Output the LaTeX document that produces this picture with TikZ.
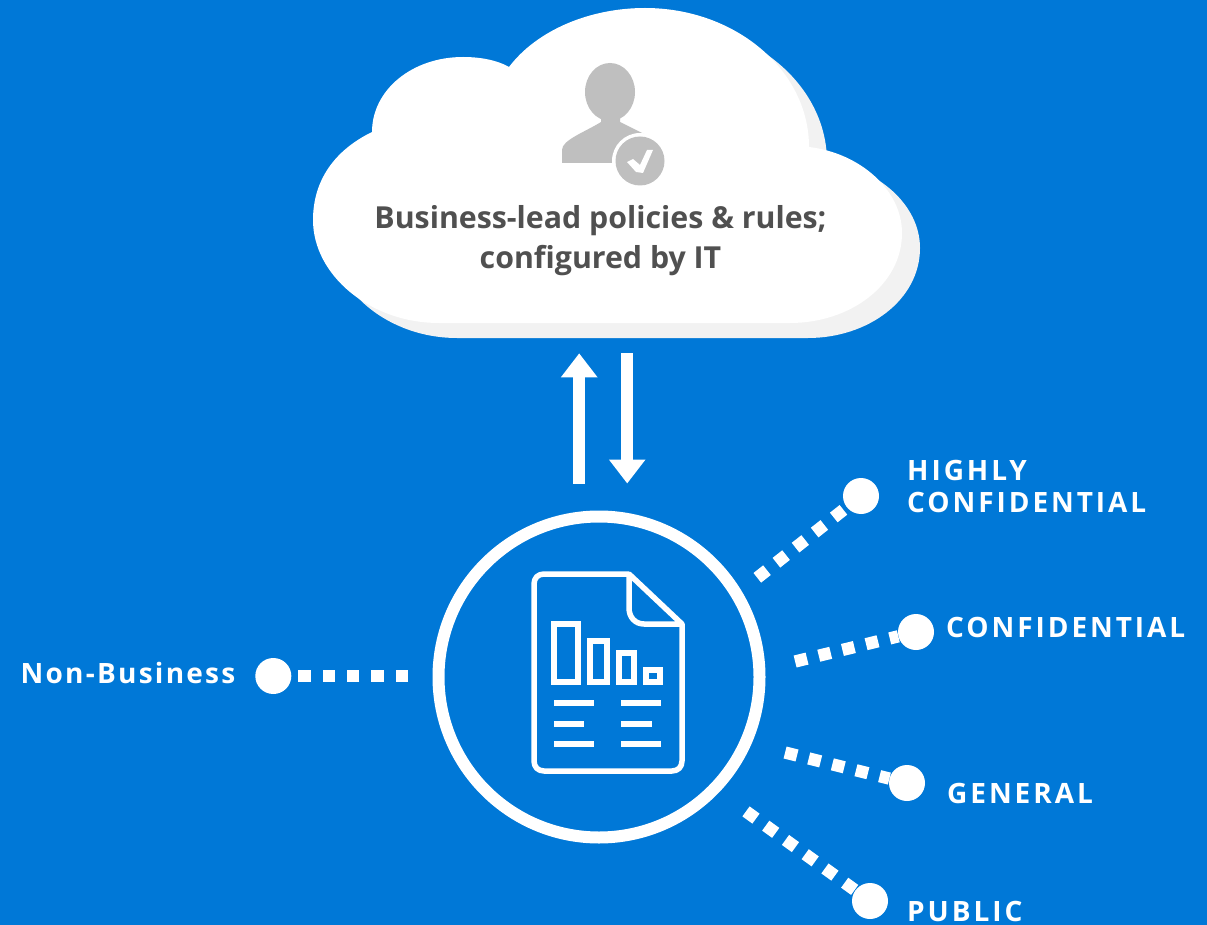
\documentclass[tikz,border=0pt]{standalone}
\usepackage{fontspec}
\setmainfont{Open Sans}
\usetikzlibrary{arrows.meta,positioning,calc}
\definecolor{bgblue}{HTML}{0078D7}
\definecolor{shadowgray}{HTML}{F2F2F2}
\definecolor{icongray}{HTML}{BFBFBF}
\definecolor{textgray}{HTML}{505050}
\newcommand{\cloudpath}{(509,67) .. controls (537,30) and (590,8) .. (645,8)
  .. controls (735,8) and (809,70) .. (809,147)
  .. controls (860,153) and (902,190) .. (902,233)
  .. controls (902,285) and (850,323) .. (790,323) -- (439,323)
  .. controls (370,323) and (313,275) .. (313,220)
  .. controls (313,180) and (335,150) .. (372,132)
  .. controls (372,90) and (412,57) .. (463,57)
  .. controls (480,57) and (497,60) .. (509,67) -- cycle}
\tikzset{
  dot/.style={circle,fill=white,inner sep=0pt,minimum size=36pt},
  dotline/.style={white,line width=12.3pt,dash pattern=on 12.3pt off 12.05pt},
  biglabel/.style={white,inner sep=0pt,anchor=base west,text depth=0pt,font=\addfontfeatures{LetterSpace=10.5}\fontsize{28}{32}\selectfont\bfseries},
  flow/.style={white,line width=12.3pt,-{Triangle[length=24pt,width=35pt]}},
  icon/.style={white,line width=5.5pt,line join=round},
  bar/.style={white,line width=6pt,line join=miter},
  txtline/.style={white,line width=6pt}
}
\begin{document}
\begin{tikzpicture}[x=1pt,y=-1pt]
\useasboundingbox (0,0) rectangle (1207,925);
\fill[bgblue] (0,0) rectangle (1207,925);
\fill[shadowgray,shift={(18,15)}] \cloudpath;
\fill[white] \cloudpath;

\fill[icongray] (610,92) ellipse (25pt and 29pt);
\fill[icongray] (601,116) -- (601,122) .. controls (585,132) and (562,140) .. (562,150) -- (562,163) -- (640,163) -- (650,137) -- (620,122) -- (620,116) -- cycle;
\fill[white] (640,161) circle (28pt);
\node (badge) [circle,fill=icongray,inner sep=0pt,minimum size=49pt] at (640,161) {};
\fill[white] (627,162) -- (633,159) -- (640,165) -- (647,150) -- (653,150) -- (643,173) -- (636,172) -- cycle;

\node (title) [textgray,inner sep=0pt,align=center,font=\fontsize{30.3}{40}\selectfont\bfseries] at (600.5,241) {Business-lead policies \& rules;\\configured by IT};

\coordinate (upfrom) at (579.2,483.5);
\coordinate (upto) at (579.2,353.3);
\coordinate (downfrom) at (627.2,353.3);
\coordinate (downto) at (627.2,483.5);
\draw[flow] (upfrom) -- (upto);
\draw[flow] (downfrom) -- (downto);

\node (docring) [circle,draw=white,line width=12pt,inner sep=0pt,minimum size=321pt] at (599,677) {};

\draw[icon] (629,574) -- (544,574) .. controls (538,574) and (534,578) .. (534,584) -- (534,761) .. controls (534,767) and (538,771) .. (544,771) -- (672,771) .. controls (678,771) and (682,767) .. (682,761) -- (682,624) -- (629,574) -- (629,608) .. controls (629,617) and (635,624) .. (644,624) -- (682,624);
\draw[bar] (554.3,624.3) rectangle (577.7,681.7);
\draw[bar] (590,641) rectangle (607.3,681.7);
\draw[bar] (619.3,653) rectangle (634,681.7);
\draw[bar] (646,670.3) rectangle (660,681.7);
\draw[txtline] (554.3,702.7) -- (594.3,702.7);
\draw[txtline] (554.3,724.3) -- (584.3,724.3);
\draw[txtline] (554.3,744) -- (594.3,744);
\draw[txtline] (621,702.7) -- (661,702.7);
\draw[txtline] (621,724.3) -- (651.7,724.3);
\draw[txtline] (621,744) -- (661,744);

\node (nbdot) [dot] at (273.3,676) {};
\node (hcdot) [dot] at (861,496) {};
\node (cdot) [dot] at (916,632) {};
\node (gdot) [dot] at (907,783) {};
\node (pdot) [dot] at (870,901) {};

\coordinate (nbstart) at (408,676);
\coordinate (hcstart) at (757.3,577.8);
\coordinate (cstart) at (795.1,661.5);
\coordinate (gstart) at (785.1,752.5);
\coordinate (pstart) at (746,811.4);
\draw[dotline] (nbstart) -- (nbdot);
\draw[dotline] (hcstart) -- (hcdot);
\draw[dotline] (cstart) -- (cdot);
\draw[dotline] (gstart) -- (gdot);
\draw[dotline] (pstart) -- (pdot);

\node (nblabel) [biglabel,font=\addfontfeatures{LetterSpace=8}\fontsize{28}{32}\selectfont\bfseries] at (20.5,683) {Non-Business};
\node (hclabel) [biglabel,align=left] at (907,512) {HIGHLY\\CONFIDENTIAL};
\node (clabel) [biglabel] at (946,637) {CONFIDENTIAL};
\node (glabel) [biglabel] at (947,803) {GENERAL};
\node (plabel) [biglabel] at (907,921) {PUBLIC};
\end{tikzpicture}
\end{document}
